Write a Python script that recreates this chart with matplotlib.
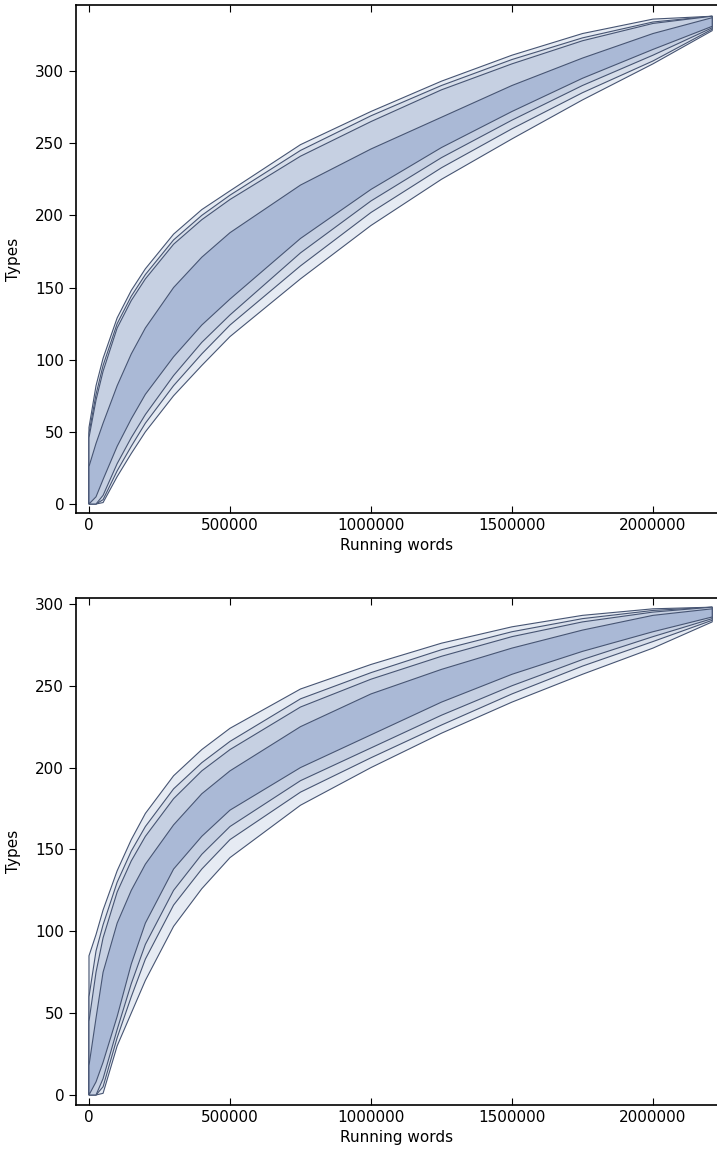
import matplotlib.pyplot as plt

words = [0, 25000, 50000, 100000, 150000, 200000, 300000, 400000, 500000,
         750000, 1000000, 1250000, 1500000, 1750000, 2000000, 2210000]

# Upper and lower edges of the four nested bands (inner -> outer), top chart
top_hi = [
    [26, 42, 56, 82, 104, 122, 150, 171, 188, 221, 246, 268, 290, 309, 326, 337],
    [46, 72, 92, 122, 141, 156, 180, 197, 211, 241, 265, 287, 305, 321, 333, 338],
    [49, 76, 96, 125, 144, 159, 183, 200, 214, 245, 269, 290, 308, 323, 334, 338],
    [53, 82, 101, 129, 148, 163, 187, 204, 217, 249, 272, 293, 311, 326, 336, 338],
]
top_lo = [
    [0, 5, 17, 40, 59, 76, 102, 124, 142, 184, 218, 247, 272, 295, 315, 331],
    [0, 0, 6, 28, 46, 62, 89, 112, 131, 174, 210, 240, 266, 290, 311, 330],
    [0, 0, 3, 23, 40, 56, 82, 104, 124, 165, 202, 233, 260, 285, 307, 329],
    [0, 0, 1, 19, 35, 50, 75, 96, 116, 156, 193, 225, 253, 280, 305, 328],
]

# same for the bottom chart
bot_hi = [
    [18, 47, 75, 105, 125, 141, 165, 184, 198, 225, 245, 260, 273, 284, 293, 297],
    [45, 75, 96, 124, 143, 158, 181, 198, 211, 237, 254, 268, 280, 289, 295, 298],
    [60, 88, 104, 130, 149, 164, 187, 203, 216, 242, 258, 272, 283, 291, 296, 298],
    [85, 98, 113, 137, 156, 172, 195, 211, 224, 248, 263, 276, 286, 293, 297, 298],
]
bot_lo = [
    [0, 8, 20, 48, 80, 105, 138, 158, 174, 200, 220, 240, 257, 271, 283, 292],
    [0, 0, 10, 40, 68, 92, 125, 147, 164, 192, 212, 232, 250, 266, 280, 291],
    [0, 0, 5, 35, 60, 83, 116, 138, 156, 185, 206, 226, 245, 262, 277, 290],
    [0, 0, 1, 30, 50, 70, 103, 126, 145, 177, 200, 221, 240, 257, 273, 289],
]

x_ticks = [0, 500000, 1000000, 1500000, 2000000]
y_ticks = [0, 50, 100, 150, 200, 250, 300]

band_colors = ['#aab9d6', '#c6d0e2', '#d7deea', '#e6ebf3']
edge = '#475573'

fig = plt.figure(figsize=(7.17, 11.54), dpi=100)
ax1 = fig.add_axes([0.106, 0.5555, 0.894, 0.4402])
ax2 = fig.add_axes([0.106, 0.0425, 0.894, 0.4393])


def draw_panel(ax, hi, lo, ylim):
    # outer band first, inner ones painted over it
    for k in range(3, -1, -1):
        xs = words + words[::-1]
        ys = hi[k] + lo[k][::-1]
        ax.fill(xs, ys, facecolor=band_colors[k], edgecolor=edge, lw=0.8)
    ax.set_xlim(-46000, 2227000)
    ax.set_ylim(*ylim)
    ax.set_xticks(x_ticks)
    ax.set_xticklabels([str(t) for t in x_ticks])
    ax.set_yticks(y_ticks)
    ax.spines['right'].set_visible(False)
    for s in ['left', 'bottom', 'top']:
        ax.spines[s].set_linewidth(1.2)
    ax.tick_params(axis='x', direction='in', top=True, length=5, labelsize=11)
    ax.tick_params(axis='y', direction='out', right=False, length=5, labelsize=11)
    ax.set_xlabel('Running words', fontsize=11)
    ax.set_ylabel('Types', fontsize=11, labelpad=10)


draw_panel(ax1, top_hi, top_lo, (-6.2, 345.8))
draw_panel(ax2, bot_hi, bot_lo, (-6.1, 303.6))

fig.savefig('out.png', dpi=100)
